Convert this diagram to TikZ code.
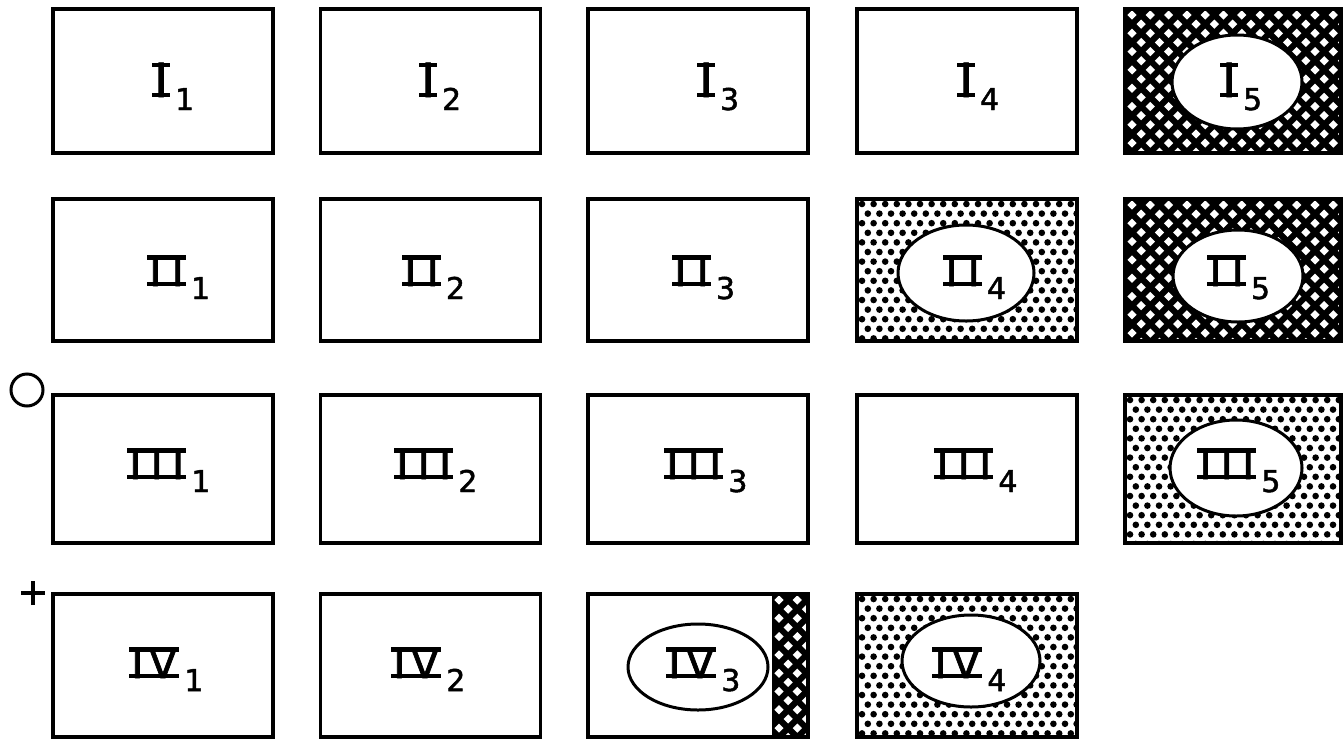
\documentclass[tikz,border=0pt]{standalone}
\usepackage{fontspec}
\usetikzlibrary{shapes.geometric}
\newfontfamily\numfont[FakeBold=1.6]{DejaVu Sans}
% roman numeral with bars above and below
\newcommand\rnum[1]{\setbox0=\hbox{\numfont #1}%
  \dimen0=\dimexpr\wd0+4pt\relax
  \rlap{\rule{\dimen0}{4.5pt}}%
  \rlap{\raise\dimexpr\ht0-4.5pt\relax\hbox{\rule{\dimen0}{4.5pt}}}%
  \kern2pt\box0\kern2pt}
\newcommand\sbs[1]{\kern5pt\raisebox{-13pt}{\fontsize{30}{30}\selectfont\numfont #1}}
% cross-hatch: black with white diamonds
\newcommand\hatchpat[4]{%
  \begin{scope}
    \clip (#1,#2) rectangle (#3,#4);
    \fill[black] (#1,#2) rectangle (#3,#4);
    \foreach \i in {0,...,25}{%
      \foreach \j in {0,...,8}{%
        \pgfmathsetmacro\hx{#1+7+\i*9.15}%
        \pgfmathsetmacro\hy{#2+6+\j*18.3+mod(\i,2)*9.15}%
        \fill[white] (\hx,\hy-4.6) -- (\hx+4.6,\hy) -- (\hx,\hy+4.6) -- (\hx-4.6,\hy) -- cycle;
      }}
  \end{scope}}
% dots: black dots in offset rows
\newcommand\dotpat[4]{%
  \begin{scope}
    \clip (#1,#2) rectangle (#3,#4);
    \foreach \i in {0,...,38}{%
      \foreach \j in {0,...,8}{%
        \pgfmathsetmacro\hx{#1+5+\i*5.8}%
        \pgfmathsetmacro\hy{#2+5+\j*19.2+mod(\i,2)*9.6}%
        \fill[black] (\hx,\hy) circle (3.3pt);
      }}
  \end{scope}}
\tikzset{
  cell/.style={draw=black, line width=3.5pt, rectangle, inner sep=0pt, minimum width=220pt},
  rowA/.style={minimum height=144pt},
  rowB/.style={minimum height=142pt},
  rowC/.style={minimum height=148pt},
  rowD/.style={minimum height=143pt},
  ell/.style={draw=black, fill=white, line width=3pt, ellipse, inner sep=0pt},
  lab/.style={inner sep=0pt, anchor=base west, font=\fontsize{42}{42}\selectfont},
  labA/.style={lab, font=\fontsize{47}{47}\selectfont},
}
\begin{document}
\begin{tikzpicture}[x=1pt,y=-1pt]
\useasboundingbox (0,0) rectangle (1343,742);

% patterns
\hatchpat{1125}{9}{1341}{153}
\hatchpat{1125}{199}{1341}{341}
\hatchpat{772}{594}{808}{737}
\dotpat{857}{199}{1077}{341}
\dotpat{1125}{395}{1341}{543}
\dotpat{857}{594}{1077}{737}

% row I
\node[cell,rowA] (b11) at (163,81) {};
\node[cell,rowA] (b12) at (430.5,81) {};
\node[cell,rowA] (b13) at (698,81) {};
\node[cell,rowA] (b14) at (967,81) {};
\node[cell,rowA,minimum width=216pt] (b15) at (1233,81) {};
% row II
\node[cell,rowB] (b21) at (163,270) {};
\node[cell,rowB] (b22) at (430.5,270) {};
\node[cell,rowB] (b23) at (698,270) {};
\node[cell,rowB] (b24) at (967,270) {};
\node[cell,rowB,minimum width=216pt] (b25) at (1233,270) {};
% row III
\node[cell,rowC] (b31) at (163,469) {};
\node[cell,rowC] (b32) at (430.5,469) {};
\node[cell,rowC] (b33) at (698,469) {};
\node[cell,rowC] (b34) at (967,469) {};
\node[cell,rowC,minimum width=216pt] (b35) at (1233,469) {};
% row IV
\node[cell,rowD] (b41) at (163,665.5) {};
\node[cell,rowD] (b42) at (430.5,665.5) {};
\node[cell,rowD] (b43) at (698,665.5) {};
\node[cell,rowD] (b44) at (967,665.5) {};

% ellipses
\node[ell,minimum width=130pt,minimum height=94pt] (e15) at (1237,82) {};
\node[ell,minimum width=136pt,minimum height=96pt] (e24) at (966,273) {};
\node[ell,minimum width=130pt,minimum height=92pt] (e25) at (1238,276) {};
\node[ell,minimum width=132pt,minimum height=96pt] (e35) at (1236,468) {};
\node[ell,minimum width=140pt,minimum height=86pt] (e43) at (698,667) {};
\node[ell,minimum width=138pt,minimum height=92pt] (e44) at (971,661) {};

% labels row I
\node[labA] (t11) at (152,97) {\rnum{I}\sbs{1}};
\node[labA] (t12) at (419,97) {\rnum{I}\sbs{2}};
\node[labA] (t13) at (697,97) {\rnum{I}\sbs{3}};
\node[labA] (t14) at (957,97) {\rnum{I}\sbs{4}};
\node[labA] (t15) at (1220,97) {\rnum{I}\sbs{5}};
% labels row II
\node[lab] (t21) at (147,286) {\rnum{I\kern10pt I}\sbs{1}};
\node[lab] (t22) at (402,286) {\rnum{I\kern10pt I}\sbs{2}};
\node[lab] (t23) at (672,286) {\rnum{I\kern10pt I}\sbs{3}};
\node[lab] (t24) at (943,286) {\rnum{I\kern10pt I}\sbs{4}};
\node[lab] (t25) at (1207,286) {\rnum{I\kern10pt I}\sbs{5}};
% labels row III
\node[lab] (t31) at (127,479) {\rnum{I\kern9pt I\kern9pt I}\sbs{1}};
\node[lab] (t32) at (394,479) {\rnum{I\kern9pt I\kern9pt I}\sbs{2}};
\node[lab] (t33) at (664,479) {\rnum{I\kern9pt I\kern9pt I}\sbs{3}};
\node[lab] (t34) at (934,479) {\rnum{I\kern9pt I\kern9pt I}\sbs{4}};
\node[lab] (t35) at (1197,479) {\rnum{I\kern9pt I\kern9pt I}\sbs{5}};
% labels row IV
\node[lab] (t41) at (129,678) {\rnum{I\kern5pt V}\sbs{1}};
\node[lab] (t42) at (391,678) {\rnum{I\kern5pt V}\sbs{2}};
\node[lab] (t43) at (666,678) {\rnum{I\kern5pt V}\sbs{3}};
\node[lab] (t44) at (932,678) {\rnum{I\kern5pt V}\sbs{4}};

% side marks
\node[draw=black, circle, line width=3pt, minimum size=32pt, inner sep=0pt] (mo) at (27,390) {};
\coordinate (mp) at (33,593);
\draw[line width=4pt] ([xshift=-12pt]mp) -- ([xshift=12pt]mp) ([yshift=-12pt]mp) -- ([yshift=12pt]mp);
\end{tikzpicture}
\end{document}
